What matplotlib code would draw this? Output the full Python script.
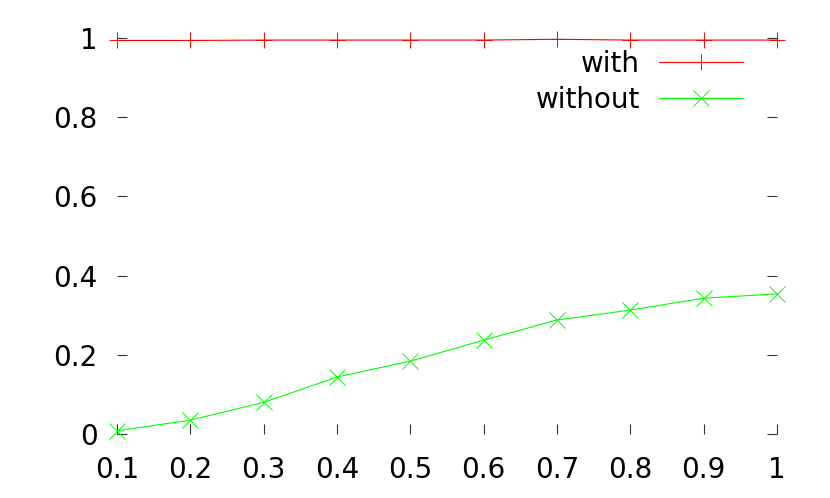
import numpy as np
from matplotlib import pyplot as plt

# Data
x = [0.1, 0.2, 0.3, 0.4, 0.5, 0.6, 0.7, 0.8, 0.9, 1.0]
withVals = [0.994, 0.994, 0.995, 0.995, 0.995, 0.995, 0.997, 0.995, 0.995, 0.995]
withoutVals = [0.008, 0.035, 0.080, 0.144, 0.184, 0.237, 0.288, 0.313, 0.343, 0.354]
xTicks = [0.1, 0.2, 0.3, 0.4, 0.5, 0.6, 0.7, 0.8, 0.9, 1.0]
xTickLabels = ["0.1", "0.2", "0.3", "0.4", "0.5", "0.6", "0.7", "0.8", "0.9", "1"]
yTicks = [0, 0.2, 0.4, 0.6, 0.8, 1.0]
yTickLabels = ["0", "0.2", "0.4", "0.6", "0.8", "1"]

fig = plt.figure(figsize=(8.3, 4.98), dpi=100)
ax = fig.add_axes([0.141, 0.1285, 0.795, 0.795])

ax.plot(x, withVals, color='#ff0000', lw=0.8, marker='+', ms=12, mew=0.7,
        label="with", clip_on=False)
ax.plot(x, withoutVals, color='#00ff00', lw=0.8, marker='x', ms=11, mew=0.7,
        label="without", clip_on=False)

ax.set_xlim(0.1, 1.0)
ax.set_ylim(0, 1)
ax.set_xticks(xTicks)
ax.set_xticklabels(xTickLabels)
ax.set_yticks(yTicks)
ax.set_yticklabels(yTickLabels)

# gnuplot look: no border, ticks pointing inwards
for side in ['top', 'bottom', 'left', 'right']:
    ax.spines[side].set_visible(False)
ax.tick_params(axis='x', direction='in', length=7, width=0.8, color='#333333',
               labelsize=20, pad=16)
ax.tick_params(axis='y', direction='in', length=7, width=0.8, color='#333333',
               labelsize=20, pad=14, right=True)

ax.legend(loc='upper right', bbox_to_anchor=(0.948, 0.971), frameon=False,
          markerfirst=False, numpoints=1, fontsize=20, handlelength=3.0,
          handletextpad=0.7, borderpad=0, borderaxespad=0, labelspacing=0.3)

fig.savefig("out.png", dpi=100)
